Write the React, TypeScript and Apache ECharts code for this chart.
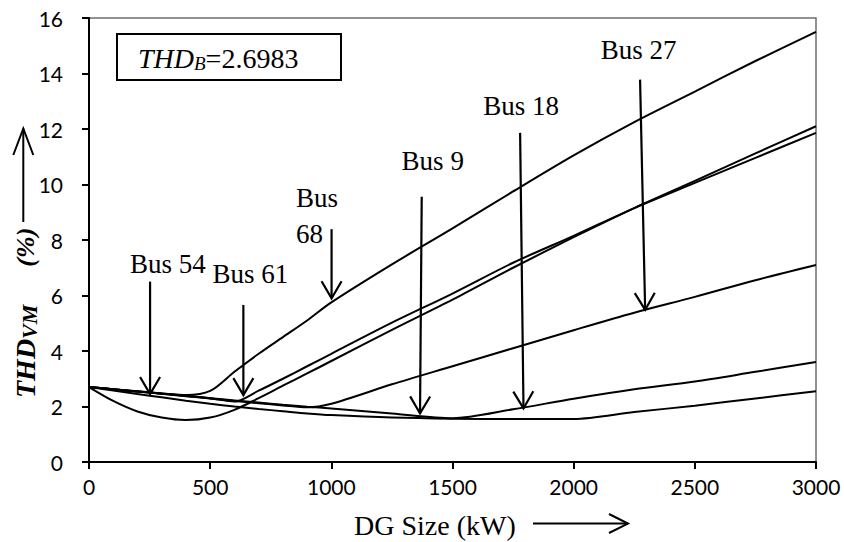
import { useEffect, useRef } from 'react';
import * as echarts from 'echarts';

// DG size steps (kW) shared by every curve
const dgSizeKW = [0, 100, 200, 300, 400, 500, 600, 700, 800, 900, 1000, 1250, 1500, 1750, 2000, 2250, 2500, 2750, 3000];

// THD_VM (%) for each DG location
const thdBus68 = [2.70, 2.62, 2.54, 2.47, 2.41, 2.56, 3.25, 3.90, 4.50, 5.10, 5.75, 7.12, 8.42, 9.75, 11.05, 12.25, 13.35, 14.45, 15.50];
const thdBus61 = [2.70, 2.62, 2.55, 2.47, 2.39, 2.30, 2.18, 2.57, 3.00, 3.45, 3.90, 5.02, 6.07, 7.18, 8.15, 9.15, 10.06, 10.96, 11.86];
const thdBus54 = [2.70, 2.20, 1.82, 1.60, 1.51, 1.60, 1.88, 2.30, 2.75, 3.19, 3.64, 4.76, 5.85, 7.00, 8.10, 9.15, 10.13, 11.12, 12.10];
const thdBus27 = [2.70, 2.62, 2.54, 2.46, 2.37, 2.29, 2.20, 2.12, 2.04, 1.97, 2.10, 2.80, 3.45, 4.10, 4.75, 5.38, 5.95, 6.55, 7.10];
const thdBus18 = [2.70, 2.62, 2.54, 2.46, 2.38, 2.30, 2.22, 2.14, 2.06, 1.99, 1.93, 1.75, 1.58, 1.90, 2.28, 2.62, 2.90, 3.25, 3.60];
const thdBus9 = [2.70, 2.58, 2.45, 2.33, 2.21, 2.10, 2.00, 1.91, 1.83, 1.75, 1.69, 1.60, 1.56, 1.55, 1.55, 1.80, 2.03, 2.29, 2.55];

const curves = [
  { name: 'Bus 68', values: thdBus68 },
  { name: 'Bus 61', values: thdBus61 },
  { name: 'Bus 54', values: thdBus54 },
  { name: 'Bus 27', values: thdBus27 },
  { name: 'Bus 18', values: thdBus18 },
  { name: 'Bus 9', values: thdBus9 },
];

// Axis ticks
const xTicks = [0, 500, 1000, 1500, 2000, 2500, 3000];
const yTicks = [0, 2, 4, 6, 8, 10, 12, 14, 16];

// Base-case THD
const thdBase = '2.6983';

// Bus callouts in data space: arrow tail, arrow tip, label anchor (kW, %)
const busNoteText = ['Bus 54', 'Bus 61', 'Bus\n68', 'Bus 9', 'Bus 18', 'Bus 27'];
const busNoteTail = [[252, 6.5], [637, 5.66], [1001, 8.39], [1373, 9.56], [1779, 11.86], [2274, 13.78]];
const busNoteTip = [[252, 2.45], [637, 2.41], [1001, 5.9], [1366, 1.75], [1793, 1.93], [2295, 5.48]];
const busNoteLabel = [[169, 7.15], [510, 6.77], [854, 8.88], [1290, 10.85], [1627, 12.83], [2112, 14.86]];

const SERIF = '"Liberation Serif", "Times New Roman", serif';
const SANS = 'Lato, "Open Sans", sans-serif';

export default function App() {
  const ref = useRef<HTMLDivElement>(null);

  useEffect(() => {
    const chart = echarts.init(ref.current!, null, { renderer: 'svg' });

    const lineSeries = curves.map((c) => ({
      name: c.name,
      type: 'line',
      data: dgSizeKW.map((x, i) => [x, c.values[i]]),
      symbol: 'none',
      showSymbol: false,
      smooth: 0.3,
      silent: true,
      z: 3,
      lineStyle: { color: '#000', width: 2 },
    }));

    const noteSeries = {
      type: 'custom',
      silent: true,
      clip: false,
      z: 5,
      data: busNoteText.map((_, i) => [
        busNoteTail[i][0], busNoteTail[i][1],
        busNoteTip[i][0], busNoteTip[i][1],
        busNoteLabel[i][0], busNoteLabel[i][1],
      ]),
      encode: { x: [0, 2, 4], y: [1, 3, 5] },
      renderItem: (params: any, api: any) => {
        const p0 = api.coord([api.value(0), api.value(1)]);
        const p1 = api.coord([api.value(2), api.value(3)]);
        const pl = api.coord([api.value(4), api.value(5)]);
        const dx = p1[0] - p0[0];
        const dy = p1[1] - p0[1];
        const len = Math.hypot(dx, dy) || 1;
        const ux = dx / len;
        const uy = dy / len;
        const back = 17;
        const half = 10;
        const bx = p1[0] - ux * back;
        const by = p1[1] - uy * back;
        const nx = -uy;
        const ny = ux;
        return {
          type: 'group',
          children: [
            {
              type: 'line',
              shape: { x1: p0[0], y1: p0[1], x2: p1[0], y2: p1[1] },
              style: { stroke: '#000', lineWidth: 2.2 },
            },
            {
              type: 'polyline',
              shape: { points: [[bx + nx * half, by + ny * half], [p1[0], p1[1]], [bx - nx * half, by - ny * half]] },
              style: { stroke: '#000', lineWidth: 2.2, fill: 'none' },
            },
            {
              type: 'text',
              style: {
                text: busNoteText[params.dataIndex],
                x: pl[0],
                y: pl[1],
                font: `27px ${SERIF}`,
                fill: '#000',
                textAlign: 'left',
                textVerticalAlign: 'middle',
                lineHeight: 36,
              },
            },
          ],
        };
      },
    };

    chart.setOption({
      animation: false,
      backgroundColor: '#fff',
      grid: {
        left: 89,
        right: 28,
        top: 18,
        bottom: 80,
        show: true,
        borderColor: '#6e6e6e',
        borderWidth: 1.5,
      },
      xAxis: {
        type: 'value',
        min: xTicks[0],
        max: xTicks[xTicks.length - 1],
        interval: xTicks[1] - xTicks[0],
        axisLine: { show: true, lineStyle: { color: '#000', width: 2 } },
        axisTick: { show: true, inside: false, length: 7, lineStyle: { color: '#000', width: 2 } },
        axisLabel: {
          color: '#000',
          fontFamily: SANS,
          fontSize: 21,
          margin: 14,
          formatter: (v: number) => String(v),
        },
        splitLine: { show: false },
      },
      yAxis: {
        type: 'value',
        min: yTicks[0],
        max: yTicks[yTicks.length - 1],
        interval: yTicks[1] - yTicks[0],
        axisLine: { show: true, lineStyle: { color: '#000', width: 2 } },
        axisTick: { show: true, inside: false, length: 7, lineStyle: { color: '#000', width: 2 } },
        axisLabel: {
          color: '#000',
          fontFamily: SANS,
          fontSize: 21,
          margin: 26,
          formatter: (v: number) => String(v),
        },
        splitLine: { show: false },
      },
      graphic: [
        // base-case box
        {
          type: 'rect',
          z: 10,
          shape: { x: 117, y: 34, width: 224, height: 46 },
          style: { fill: '#fff', stroke: '#000', lineWidth: 2 },
        },
        {
          type: 'text',
          z: 11,
          x: 138,
          y: 58,
          style: {
            text: `{t|THD}{s|B}{r|=${thdBase}}`,
            textAlign: 'left',
            textVerticalAlign: 'middle',
            rich: {
              t: { fontFamily: SERIF, fontStyle: 'italic', fontSize: 28, lineHeight: 30, fill: '#000' },
              s: { fontFamily: SERIF, fontStyle: 'italic', fontSize: 19, lineHeight: 19, padding: [15, 0, 0, 0], verticalAlign: 'bottom', fill: '#000' },
              r: { fontFamily: SERIF, fontSize: 28, lineHeight: 30, fill: '#000' },
            },
          },
        },
        // x-axis title with arrow
        {
          type: 'text',
          x: 354,
          y: 525,
          style: {
            text: 'DG Size (kW)',
            font: `28px ${SERIF}`,
            fill: '#000',
            textAlign: 'left',
            textVerticalAlign: 'middle',
          },
        },
        {
          type: 'line',
          shape: { x1: 533, y1: 523.6, x2: 628, y2: 523.6 },
          style: { stroke: '#000', lineWidth: 2 },
        },
        {
          type: 'polyline',
          shape: { points: [[609, 514], [628, 523.6], [609, 533]] },
          style: { stroke: '#000', lineWidth: 2, fill: 'none' },
        },
        // y-axis title with arrow
        {
          type: 'text',
          x: 25,
          y: 398,
          rotation: Math.PI / 2,
          style: {
            text: '{t|THD}{s|VM}{p|(%)}',
            textAlign: 'left',
            textVerticalAlign: 'middle',
            rich: {
              t: { fontFamily: SERIF, fontStyle: 'italic', fontWeight: 'bold', fontSize: 28, lineHeight: 30, fill: '#000' },
              s: { fontFamily: SERIF, fontStyle: 'italic', fontWeight: 'bold', fontSize: 22, lineHeight: 22, padding: [10, 0, 0, 0], verticalAlign: 'bottom', fill: '#000' },
              p: { fontFamily: SERIF, fontStyle: 'italic', fontWeight: 'bold', fontSize: 26, lineHeight: 30, padding: [0, 0, 0, 38], fill: '#000' },
            },
          },
        },
        {
          type: 'line',
          shape: { x1: 23.3, y1: 222, x2: 23.3, y2: 128.5 },
          style: { stroke: '#000', lineWidth: 2 },
        },
        {
          type: 'polyline',
          shape: { points: [[13.3, 155], [23.3, 128.5], [33.3, 155]] },
          style: { stroke: '#000', lineWidth: 2, fill: 'none' },
        },
      ],
      series: [...lineSeries, noteSeries],
    });

    return () => chart.dispose();
  }, []);

  return (
    <div
      ref={ref}
      style={{ position: 'fixed', left: 0, top: 0, width: 844, height: 542, background: '#fff' }}
    />
  );
}
